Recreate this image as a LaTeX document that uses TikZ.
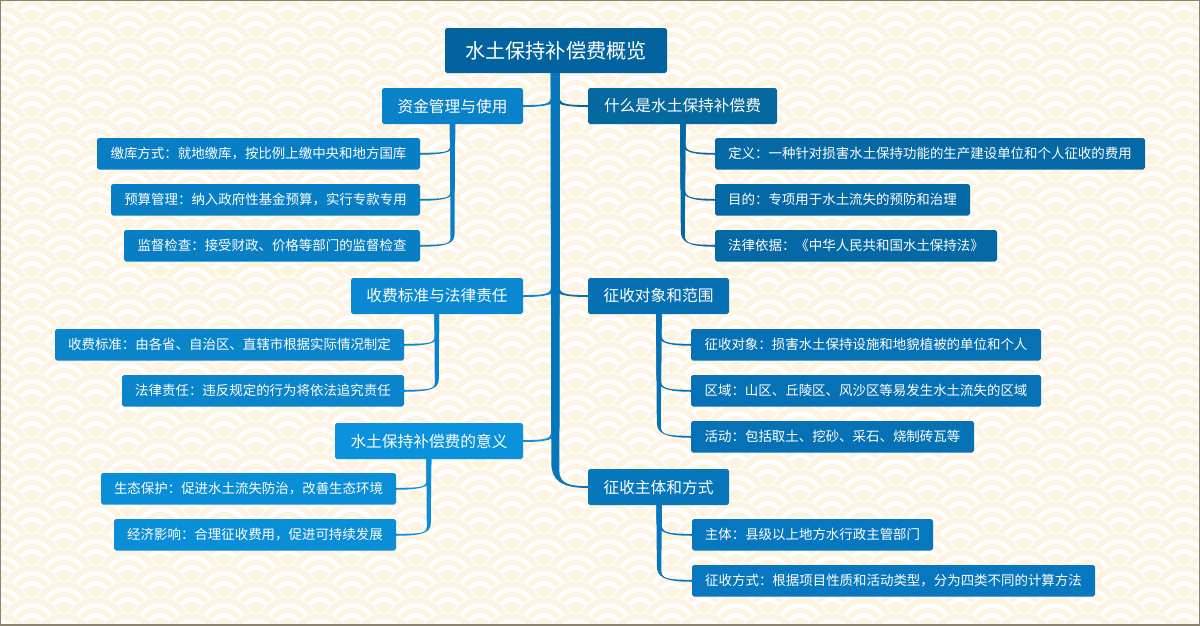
\documentclass[tikz,border=0pt]{standalone}
\usepackage{fontspec}
\setmainfont{Noto Sans CJK SC}
\usetikzlibrary{calc}
\definecolor{creamc}{HTML}{FDF3E0}
\definecolor{framec}{HTML}{8C8270}
\definecolor{cRoot}{HTML}{02639E}
\definecolor{cA}{HTML}{0A82C9}
\definecolor{cAa}{HTML}{087EC4}
\definecolor{cB}{HTML}{0A89D2}
\definecolor{cBa}{HTML}{0A85CC}
\definecolor{cC}{HTML}{0A92DD}
\definecolor{cCa}{HTML}{0A8ED8}
\definecolor{cD}{HTML}{05689F}
\definecolor{cDa}{HTML}{0569A6}
\definecolor{cE}{HTML}{0670B3}
\definecolor{cEa}{HTML}{0672B5}
\definecolor{cF}{HTML}{0776BB}
\definecolor{cFa}{HTML}{0778BF}
\tikzset{
  x=1pt,y=-1pt,
  mapbox/.style={rectangle,rounded corners=1.8pt,inner sep=0pt,text=white,align=center},
  rootbox/.style={mapbox,font=\fontsize{20.2}{24}\selectfont},
  topicbox/.style={mapbox,font=\fontsize{15.7}{19}\selectfont},
  leafbox/.style={mapbox,font=\fontsize{13.45}{16}\selectfont}
}
% name, x0, y0, x1, y1, style, colour, text
\newcommand{\mapnode}[8]{%
  \node[#6,fill=#7,minimum width={(#4-#2)*1pt},minimum height={(#5-#3)*1pt}] (#1) at ({(#2+#4)/2},{(#3+#5)/2}) {#8};}
% parent, x offset in parent, child anchor, colour, direction, half width top, half width low, corner
\newcommand{\conn}[8]{%
  \fill[#4] let \p1=([xshift=#2pt]#1.south west), \p2=(#3) in
    ({\x1-(#5)*(#6)*1pt},\y1) -- ({\x1-(#5)*(#7)*1pt},{\y2+(#8)*1pt})
    .. controls ({\x1-(#5)*(#7)*1pt},{\y2+0.3*(#8)*1pt}) and ({\x1-(#5)*(#7)*1pt+(#5)*0.4*(#8)*1pt},{\y2-1pt}) .. ({\x2},{\y2-1pt})
    -- ({\x2},{\y2+0.9pt})
    .. controls ({\x1+(#5)*(#7)*1pt+(#5)*0.35*(#8)*1pt},{\y2+1pt}) and ({\x1+(#5)*(#7)*1pt},{\y2+0.15*(#8)*1pt}) .. ({\x1+(#5)*(#7)*1pt},{\y2+0.7*(#8)*1pt})
    -- ({\x1+(#5)*(#6)*1pt},\y1) -- cycle;}
\begin{document}
\begin{tikzpicture}
\useasboundingbox (0,0) rectangle (1200,625);
\begin{scope}
  \clip (0,0) rectangle (1200,625);
  \fill[white] (0,0) rectangle (1200,625);
  \foreach \k in {-3,...,43}{
    \pgfmathsetmacro{\cy}{16*\k+4}
    \pgfmathsetmacro{\ox}{mod(\k+300,2)*32}
    \foreach \j in {-1,...,19}{
      \pgfmathsetmacro{\cx}{64*\j+\ox}
      \fill[white] (\cx,\cy) circle[radius=32];
      \fill[creamc] (\cx,\cy) circle[radius=30.5];
      \fill[white] (\cx,\cy) circle[radius=25];
      \fill[creamc] (\cx,\cy) circle[radius=20];
      \fill[white] (\cx,\cy) circle[radius=15];
      \fill[creamc] (\cx,\cy) circle[radius=10];
    }
  }
\end{scope}
\draw[framec,line width=2pt] (0,0) rectangle (1200,625);

\mapnode{root}{445}{28}{667}{73}{rootbox}{cRoot}{水土保持补偿费概览}
\mapnode{a}{382}{88}{523}{124}{topicbox}{cA}{资金管理与使用}
\mapnode{b}{351}{278}{523}{314}{topicbox}{cB}{收费标准与法律责任}
\mapnode{c}{335}{423}{523}{459}{topicbox}{cC}{水土保持补偿费的意义}
\mapnode{d}{588}{88}{777}{124}{topicbox}{cD}{什么是水土保持补偿费}
\mapnode{e}{588}{278}{729}{314}{topicbox}{cE}{征收对象和范围}
\mapnode{f}{588}{469}{729}{505}{topicbox}{cF}{征收主体和方式}
\mapnode{a1}{97}{138}{420}{169.5}{leafbox}{cAa}{缴库方式：就地缴库，按比例上缴中央和地方国库}
\mapnode{a2}{111}{184}{420}{215.5}{leafbox}{cAa}{预算管理：纳入政府性基金预算，实行专款专用}
\mapnode{a3}{124}{230}{420}{261.5}{leafbox}{cAa}{监督检查：接受财政、价格等部门的监督检查}
\mapnode{b1}{55}{329}{404}{360.5}{leafbox}{cBa}{收费标准：由各省、自治区、直辖市根据实际情况制定}
\mapnode{b2}{122}{375}{404}{406.5}{leafbox}{cBa}{法律责任：违反规定的行为将依法追究责任}
\mapnode{c1}{101}{473}{396}{504.5}{leafbox}{cCa}{生态保护：促进水土流失防治，改善生态环境}
\mapnode{c2}{114}{519}{396}{550.5}{leafbox}{cCa}{经济影响：合理征收费用，促进可持续发展}
\mapnode{d1}{715}{138}{1145}{169.5}{leafbox}{cDa}{定义：一种针对损害水土保持功能的生产建设单位和个人征收的费用}
\mapnode{d2}{715}{184}{970}{215.5}{leafbox}{cDa}{目的：专项用于水土流失的预防和治理}
\mapnode{d3}{715}{230}{997}{261.5}{leafbox}{cDa}{法律依据：《中华人民共和国水土保持法》}
\mapnode{e1}{691}{329}{1041}{360.5}{leafbox}{cEa}{征收对象：损害水土保持设施和地貌植被的单位和个人}
\mapnode{e2}{691}{375}{1041}{406.5}{leafbox}{cEa}{区域：山区、丘陵区、风沙区等易发生水土流失的区域}
\mapnode{e3}{691}{421}{974}{452.5}{leafbox}{cEa}{活动：包括取土、挖砂、采石、烧制砖瓦等}
\mapnode{f1}{692}{519}{933}{550.5}{leafbox}{cFa}{主体：县级以上地方水行政主管部门}
\mapnode{f2}{692}{565}{1095}{596.5}{leafbox}{cFa}{征收方式：根据项目性质和活动类型，分为四类不同的计算方法}

\conn{a}{70.7}{a1.east}{cAa}{-1}{2.6}{2.4}{12}
\conn{a}{70.7}{a2.east}{cAa}{-1}{2.6}{2.2}{12}
\conn{a}{70.7}{a3.east}{cAa}{-1}{2.6}{2}{12}
\conn{b}{86}{b1.east}{cBa}{-1}{2.4}{2.2}{12}
\conn{b}{86}{b2.east}{cBa}{-1}{2.4}{2}{12}
\conn{c}{94}{c1.east}{cCa}{-1}{2.5}{2.3}{12}
\conn{c}{94}{c2.east}{cCa}{-1}{2.5}{2}{12}
\conn{d}{95}{d1.west}{cDa}{1}{2.8}{2.6}{15}
\conn{d}{95}{d2.west}{cDa}{1}{2.8}{2.3}{15}
\conn{d}{95}{d3.west}{cDa}{1}{2.8}{2}{15}
\conn{e}{71}{e1.west}{cEa}{1}{2.8}{2.6}{15}
\conn{e}{71}{e2.west}{cEa}{1}{2.8}{2.3}{15}
\conn{e}{71}{e3.west}{cEa}{1}{2.8}{2}{15}
\conn{f}{71.3}{f1.west}{cFa}{1}{2.8}{2.6}{15}
\conn{f}{71.3}{f2.west}{cFa}{1}{2.8}{2.2}{15}
\conn{root}{110.5}{a.east}{cA}{-1}{4.5}{4.2}{14}
\conn{root}{110.5}{b.east}{cB}{-1}{4.5}{4.2}{14}
\conn{root}{110.5}{c.east}{cC}{-1}{4.5}{4.2}{14}
\conn{root}{110.5}{d.west}{cD}{1}{4.5}{4.2}{14}
\conn{root}{110.5}{e.west}{cE}{1}{4.5}{4.2}{14}
\conn{root}{110.5}{f.west}{cF}{1}{4.5}{4}{24}
\end{tikzpicture}
\end{document}
